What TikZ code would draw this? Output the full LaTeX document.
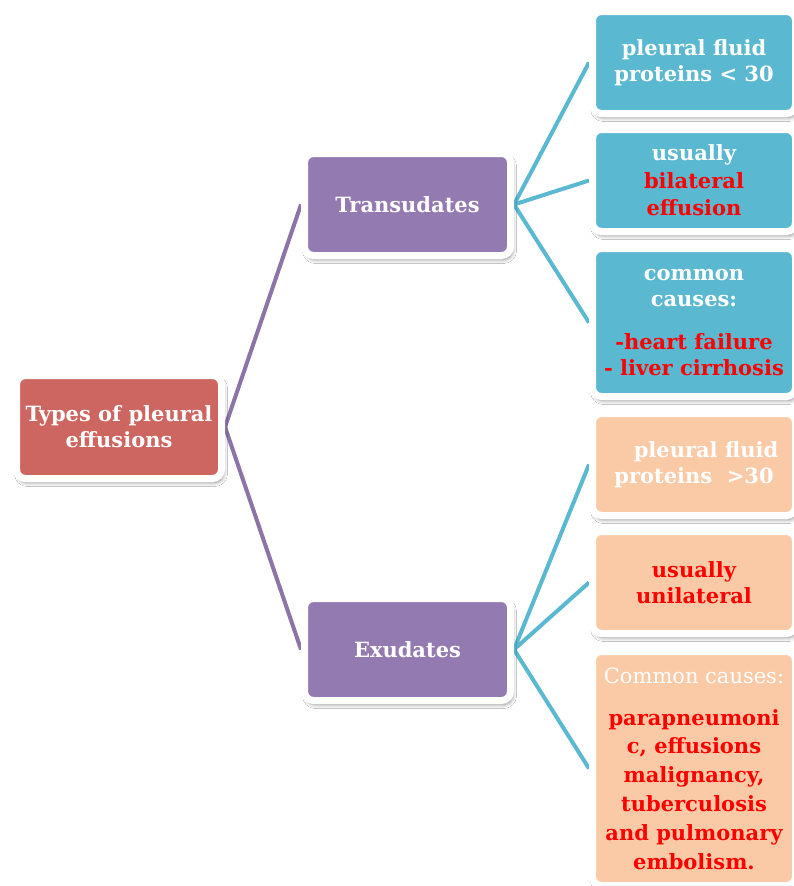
\documentclass[tikz,border=0pt]{standalone}
\usepackage{fontspec}
\setmainfont{DejaVu Serif}
\usetikzlibrary{shapes,positioning,shadows.blur,backgrounds}
\definecolor{rootred}{RGB}{205,102,96}
\definecolor{typepurple}{RGB}{147,122,176}
\definecolor{transblue}{RGB}{91,184,209}
\definecolor{exupeach}{RGB}{250,202,166}
\definecolor{causered}{RGB}{255,0,0}
\newcommand{\redtxt}[1]{\textcolor{causered}{#1}}
\tikzset{
    basebox/.style={rectangle, rounded corners=9pt, draw=white, line width=7pt, inner sep=0pt, align=center, text=white,
        font=\fontsize{21}{26}\selectfont\bfseries,
        blur shadow={shadow blur steps=8, shadow blur radius=4pt, shadow xshift=2pt, shadow yshift=-4pt, shadow opacity=45}},
    rootbox/.style={basebox, minimum width=205pt, minimum height=103pt, fill=rootred},
    typebox/.style={basebox, minimum width=206pt, minimum height=102pt, fill=typepurple},
    transbox/.style={basebox, minimum width=203pt, minimum height=102pt, fill=transblue},
    exubox/.style={basebox, minimum width=203pt, minimum height=102pt, fill=exupeach},
    purpleline/.style={line width=4pt, color=typepurple!95!black},
    blueline/.style={line width=4pt, color=transblue}
}
\begin{document}
\begin{tikzpicture}[x=1pt, y=-1pt]
\useasboundingbox (0,0) rectangle (793,886);

% Root
\node[rootbox] (root) at (119,427) {Types of pleural\\effusions};

% Two kinds
\node[typebox] (trans) at (407.5,204.5) {Transudates};
\node[typebox] (exu) at (407.5,649.5) {Exudates};

% Transudates column
\node[transbox] (tprot) at (694,62.5) {pleural fluid\\proteins < 30};
\node[transbox, font=\fontsize{21}{27.5}\selectfont\bfseries] (tside) at (694,180.5) {usually\\\redtxt{bilateral}\\\redtxt{effusion}};
\node[transbox, minimum height=148pt] (tcause) at (694,322.5) {common\\causes:\\[17pt]\redtxt{-heart failure}\\\redtxt{- liver cirrhosis}};

% Exudates column
\node[exubox] (eprot) at (694,464.5) {\hspace*{24pt}pleural fluid\\proteins\ \ >30};
\node[exubox] (eside) at (694,582.5) {\redtxt{usually}\\\redtxt{unilateral}};
\node[exubox, minimum height=234pt, font=\fontsize{21}{28.8}\selectfont\bfseries] (ecause) at (694,768.5) {{\mdseries Common causes:}\\[13pt]\redtxt{parapneumoni}\\\redtxt{c, effusions}\\\redtxt{malignancy,}\\\redtxt{tuberculosis}\\\redtxt{and pulmonary}\\\redtxt{embolism.}};

% Connectors behind the boxes
\begin{scope}[on background layer]
\fill[white] (0,0) rectangle (793,886);
\draw[purpleline] (root.east) -- (trans.west);
\draw[purpleline] (root.east) -- (exu.west);
\draw[blueline] (trans.east) -- (tprot.west);
\draw[blueline] (trans.east) -- (tside.west);
\draw[blueline] (trans.east) -- (tcause.west);
\draw[blueline] (exu.east) -- (eprot.west);
\draw[blueline] (exu.east) -- (eside.west);
\draw[blueline] (exu.east) -- (ecause.west);
\end{scope}

\end{tikzpicture}
\end{document}
